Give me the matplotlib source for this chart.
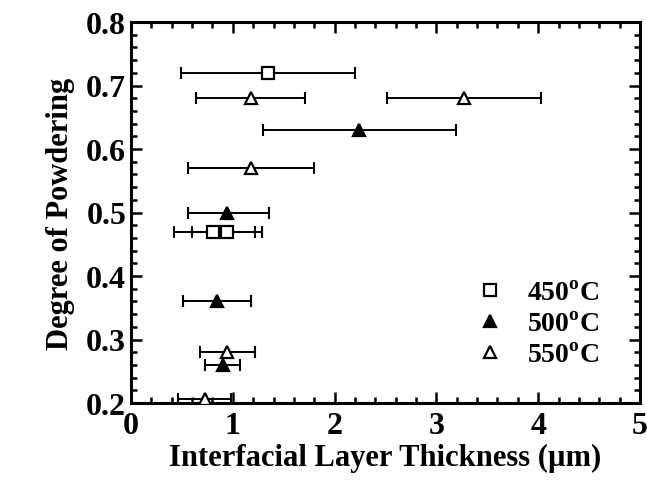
import matplotlib
matplotlib.use("Agg")
import matplotlib.pyplot as plt
from matplotlib.lines import Line2D
from matplotlib.ticker import MultipleLocator

plt.rcParams["font.family"] = "Liberation Serif"
plt.rcParams["font.weight"] = "bold"
plt.rcParams["mathtext.fontset"] = "custom"
plt.rcParams["mathtext.rm"] = "Liberation Serif:bold"
plt.rcParams["mathtext.bf"] = "Liberation Serif:bold"

# 450 C
x450 = [1.35, 0.81, 0.94]
y450 = [0.72, 0.47, 0.47]
lo450 = [0.49, 0.42, 0.60]
hi450 = [2.20, 1.22, 1.29]

# 500 C
x500 = [2.24, 0.94, 0.84, 0.90]
y500 = [0.63, 0.50, 0.36, 0.26]
lo500 = [1.30, 0.56, 0.51, 0.73]
hi500 = [3.19, 1.36, 1.18, 1.07]

# 550 C
x550 = [1.18, 3.27, 1.18, 0.94, 0.73]
y550 = [0.68, 0.68, 0.57, 0.28, 0.206]
lo550 = [0.64, 2.51, 0.56, 0.68, 0.46]
hi550 = [1.71, 4.03, 1.80, 1.22, 0.98]

labels = ["450$^{\\mathbf{o}}$C", "500$^{\\mathbf{o}}$C", "550$^{\\mathbf{o}}$C"]


def main():
    fig = plt.figure(figsize=(6.47, 4.81), dpi=100)
    ax = fig.add_axes([131 / 647, 77 / 481, 509 / 647, 381 / 481])

    series = [
        (x450, y450, lo450, hi450, "s", "white"),
        (x500, y500, lo500, hi500, "^", "black"),
        (x550, y550, lo550, hi550, "^", "white"),
    ]
    handles = []
    for x, y, lo, hi, m, fc in series:
        xerr = [[a - b for a, b in zip(x, lo)], [b - a for a, b in zip(x, hi)]]
        ax.errorbar(x, y, xerr=xerr, fmt="none", ecolor="black", elinewidth=1.4,
                    capsize=4, capthick=1.5, zorder=2)
        ax.plot(x, y, linestyle="none", marker=m, markersize=9, markerfacecolor=fc,
                markeredgecolor="black", markeredgewidth=1.6, zorder=3)
        handles.append(Line2D([], [], linestyle="none", marker=m, markersize=8,
                              markerfacecolor=fc, markeredgecolor="black", markeredgewidth=1.6))

    ax.set_xlim(0, 5)
    ax.set_ylim(0.2, 0.8)
    ax.xaxis.set_major_locator(MultipleLocator(1))
    ax.xaxis.set_minor_locator(MultipleLocator(0.2))
    ax.yaxis.set_major_locator(MultipleLocator(0.1))
    ax.yaxis.set_minor_locator(MultipleLocator(0.02))
    ax.set_yticklabels([f"{v:.1f}" for v in ax.get_yticks()])
    ax.tick_params(which="both", direction="in", top=True, right=True, labelsize=23, width=1.8)
    ax.tick_params(which="major", length=8)
    ax.tick_params(which="minor", length=4)
    ax.tick_params(axis="x", pad=6)
    for s in ax.spines.values():
        s.set_linewidth(2.2)

    ax.set_xlabel("Interfacial Layer Thickness (\u00b5m)", fontsize=22, fontweight="bold", labelpad=2)
    ax.set_ylabel("Degree of Powdering", fontsize=22, fontweight="bold", labelpad=8)

    ax.legend(handles, labels, loc="center left", bbox_to_anchor=(0.65, 0.207), frameon=False,
              fontsize=20, handlelength=1.0, handletextpad=0.85, labelspacing=0.2,
              borderpad=0.0)

    fig.savefig("out.png", dpi=100)


if __name__ == "__main__":
    main()
